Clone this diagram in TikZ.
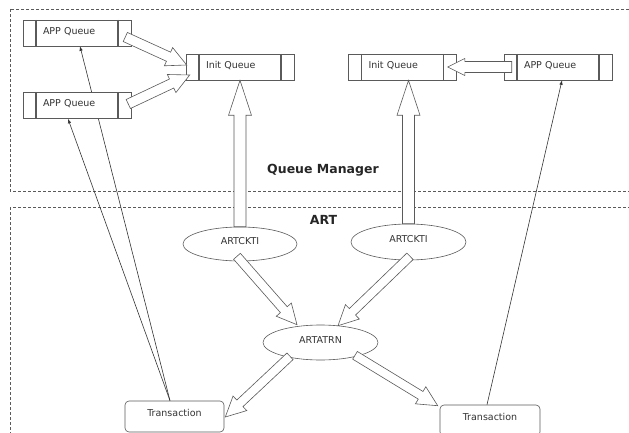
\documentclass[tikz,border=0pt]{standalone}
\usepackage{fontspec}
\setmainfont{DejaVu Sans}
\usetikzlibrary{calc,shapes.geometric,arrows.meta}
\pgfdeclarelayer{bg}
\pgfsetlayers{bg,main}
\definecolor{ln}{HTML}{5A5A5A}
\definecolor{tx}{HTML}{333333}
% block (hollow) arrow: start, tip, shaft half width, head half width, head length
\newcommand\barrow[5]{%
  \path (#1) coordinate (baS) (#2) coordinate (baT);
  \path ($(baT)!#5!(baS)$) coordinate (baH);
  \draw[blockarrow] ($(baS)!#3!90:(baT)$) -- ($(baH)!#3!90:(baT)$) -- ($(baH)!#4!90:(baT)$)
    -- (baT) -- ($(baH)!#4!-90:(baT)$) -- ($(baH)!#3!-90:(baT)$) -- ($(baS)!#3!-90:(baT)$) -- cycle;}
\begin{document}
\begin{tikzpicture}[x=1pt,y=-1pt,
  qbox/.style={draw=ln, fill=white, line width=0.6pt, minimum height=26pt,
    text width=68pt, inner xsep=20pt, inner ysep=0pt, align=left,
    text height=7pt, text depth=4pt, font=\fontsize{9.5}{11}\selectfont, text=tx,
    path picture={
      \draw[ln, line width=1.2pt] ([xshift=13pt]path picture bounding box.north west) -- ([xshift=13pt]path picture bounding box.south west);
      \draw[ln, line width=1.2pt] ([xshift=-13pt]path picture bounding box.north east) -- ([xshift=-13pt]path picture bounding box.south east);}},
  proc/.style={ellipse, draw=ln, fill=white, line width=0.6pt, minimum width=114pt, minimum height=34pt,
    inner sep=0pt, text height=7pt, text depth=6pt, font=\fontsize{9.5}{11}\selectfont, text=tx},
  trans/.style={rectangle, rounded corners=4pt, draw=ln, fill=white, line width=0.6pt,
    minimum width=99pt, minimum height=31pt, inner sep=0pt, text height=7pt, text depth=7.5pt,
    font=\fontsize{9.5}{11}\selectfont, text=tx},
  title/.style={font=\bfseries\fontsize{12.5}{14}\selectfont, text=black!85, inner sep=0pt},
  region/.style={draw=ln, line width=0.8pt, dash pattern=on 3pt off 2pt},
  blockarrow/.style={draw=ln, fill=white, line width=0.6pt, line join=miter},
  thinarr/.style={draw=black!80, line width=0.6pt, -{Latex[length=4.5pt,width=3.5pt]}}]
\useasboundingbox (0,0) rectangle (629,433);
\clip (0,0) rectangle (629,433);

% nodes
\node[qbox] (app1) at (77,33) {APP Queue};
\node[qbox] (app2) at (77,105.5) {APP Queue};
\node[qbox] (iq1) at (240,67) {Init Queue};
\node[qbox] (iq2) at (402.5,67) {Init Queue};
\node[qbox] (app3) at (558,67) {APP Queue};
\node[proc] (ck1) at (240,244) {ARTCKTI};
\node[proc, minimum width=115pt, minimum height=36pt] (ck2) at (408.5,242) {ARTCKTI};
\node[proc, minimum width=115pt, minimum height=35pt] (atrn) at (320.5,342.5) {ARTATRN};
\node[trans] (tl) at (174.5,416.5) {Transaction};
\node[trans, minimum width=100pt] (tr) at (490,420.5) {Transaction};
\node[title] (qm) at (323,170) {Queue Manager};
\node[title] (art) at (323.5,220) {ART};

% regions and thin connectors behind the nodes
\begin{pgfonlayer}{bg}
  \draw[region] (10,9) rectangle (640,191);
  \draw[region] (10,207) rectangle (640,450);
  \draw[thinarr] ($(tl.north)+(-4.5,0)$) -- ($(app1.south)+(3,0)$);
  \draw[thinarr] ($(tl.north)+(-4.5,0)$) -- ($(app2.south)+(-9,0)$);
  \draw[thinarr] ($(tr.north)+(-3,0)$) -- ($(app3.south)+(4,0)$);
\end{pgfonlayer}

% block arrows
\barrow{$(app1.east)+(-6,4)$}{$(iq1.west)+(1,-2)$}{5pt}{10pt}{20pt}
\barrow{$(app2.east)+(-3,-1.5)$}{$(iq1.west)+(4,8)$}{5pt}{10pt}{20pt}
\barrow{ck1.north}{ck1.north |- iq1.south}{6pt}{11.5pt}{35pt}
\barrow{ck2.north}{ck2.north |- iq2.south}{6pt}{11.5pt}{35pt}
\barrow{$(app3.west)+(8,0)$}{$(iq2.east)+(-9,0)$}{5.5pt}{8.5pt}{17pt}
\barrow{$(ck1.south)+(-3,-5)$}{$(atrn.north)+(-23.5,0)$}{4.5pt}{10pt}{20pt}
\barrow{$(ck2.south)+(1.5,-4)$}{$(atrn.north)+(17.5,1)$}{4.5pt}{10pt}{20pt}
\barrow{$(atrn.south)+(-30.5,-4)$}{$(tl.east)+(1,0.5)$}{4.5pt}{10pt}{20pt}
\barrow{$(atrn.south)+(34.5,-5)$}{$(tr.north west)+(-2,1)$}{4.5pt}{10pt}{20pt}
\end{tikzpicture}
\end{document}
